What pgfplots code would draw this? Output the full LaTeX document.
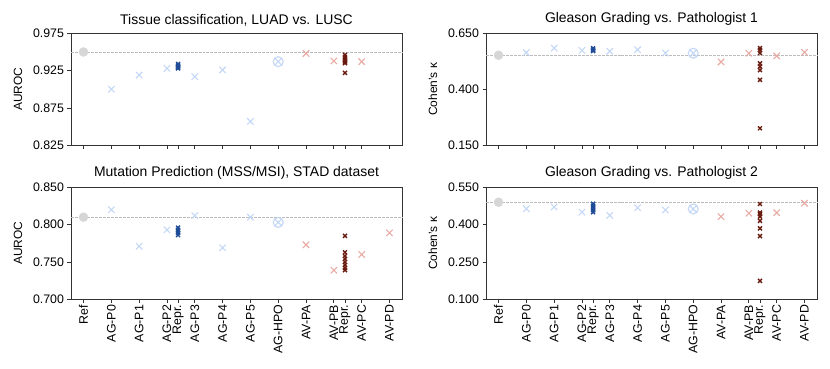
\documentclass[border=0pt]{standalone}
\usepackage{fontspec}
\setmainfont{Liberation Sans}
\usepackage{pgfplots}
\pgfplotsset{compat=1.18}
\usetikzlibrary{plotmarks}
\definecolor{AGlight}{HTML}{C4D7F6}
\definecolor{AGdark}{HTML}{1F4C97}
\definecolor{AVlight}{HTML}{E8ABA4}
\definecolor{AVdark}{HTML}{6A1B10}
\definecolor{RefGray}{HTML}{D6D6D6}
\definecolor{Frame}{HTML}{333333}

\pgfplotsset{
  panel/.style={
    scale only axis, width=331bp, height=112bp,
    anchor=north west,
    xmin=-0.45, xmax=11.45,
    xtick={0,1,2,3,3.4,4,5,6,7,8,9,9.4,10,11},
    tick align=outside, tick pos=left,
    major tick length=3.5bp,
    axis line style={Frame, line width=0.8pt},
    every tick/.style={Frame, line width=0.8pt},
    font=\fontsize{12.4}{14}\selectfont,
    title style={font=\fontsize{14}{16}\selectfont, yshift=-2bp},
    ylabel style={font=\fontsize{12}{14}\selectfont, yshift=4bp},
    yticklabel style={/pgf/number format/.cd, fixed, fixed zerofill, precision=3, assume math mode=true},
    scaled y ticks=false,
    clip=false,
  },
  labels/.style={
    xticklabels={Ref,AG-P0,AG-P1,AG-P2,Repr.,AG-P3,AG-P4,AG-P5,AG-HPO,AV-PA,AV-PB,Repr.,AV-PC,AV-PD},
    xticklabel style={rotate=90, anchor=east, inner sep=2pt},
  },
  nolabels/.style={xticklabels={}},
  refline/.style={RefGray!70!gray, dashed, line width=0.5pt, dash pattern=on 3pt off 1pt},
  refmark/.style={only marks, mark=*, mark size=4.5bp, color=RefGray},
  ag/.style={only marks, mark=x, mark size=4.5bp, color=AGlight, line width=1.1pt},
  hpo/.style={only marks, mark=otimes, mark size=5bp, color=AGlight, line width=1.1pt},
  agr/.style={only marks, mark=x, mark size=2.8bp, color=AGdark, line width=1.4pt},
  av/.style={only marks, mark=x, mark size=4.5bp, color=AVlight, line width=1.1pt},
  avr/.style={only marks, mark=x, mark size=2.8bp, color=AVdark, line width=1.4pt},
}

\begin{document}
\begin{tikzpicture}
\useasboundingbox (0,0) rectangle (830bp,-369bp);

% top left
\begin{axis}[panel, nolabels, at={(71bp,-33.3bp)},
  title={Tissue classification, LUAD vs. LUSC}, ylabel={AUROC},
  ymin=0.825, ymax=0.975, ytick={0.825,0.875,0.925,0.975}]
\addplot[refline] coordinates {(-0.45,0.950) (11.45,0.950)};
\addplot[refmark] coordinates {(0,0.950)};
\addplot[ag] coordinates {(1,0.900) (2,0.919) (3,0.928) (4,0.917) (5,0.926) (6,0.857)};
\addplot[hpo] coordinates {(7,0.937)};
\addplot[agr] coordinates {(3.4,0.928) (3.4,0.930) (3.4,0.932) (3.4,0.934) (3.4,0.931) (3.4,0.929)};
\addplot[av] coordinates {(8,0.948) (9,0.938) (10,0.937)};
\addplot[avr] coordinates {(9.4,0.946) (9.4,0.943) (9.4,0.940) (9.4,0.938) (9.4,0.936) (9.4,0.935) (9.4,0.922)};
\end{axis}

% top right
\begin{axis}[panel, nolabels, at={(486bp,-33.3bp)},
  title={Gleason Grading vs. Pathologist 1}, ylabel={Cohen's κ},
  ymin=0.150, ymax=0.650, ytick={0.150,0.400,0.650}]
\addplot[refline] coordinates {(-0.45,0.552) (11.45,0.552)};
\addplot[refmark] coordinates {(0,0.552)};
\addplot[ag] coordinates {(1,0.564) (2,0.584) (3,0.574) (4,0.570) (5,0.577) (6,0.562)};
\addplot[hpo] coordinates {(7,0.561)};
\addplot[agr] coordinates {(3.4,0.583) (3.4,0.578) (3.4,0.574) (3.4,0.571)};
\addplot[av] coordinates {(8,0.522) (9,0.561) (10,0.549) (11,0.565)};
\addplot[avr] coordinates {(9.4,0.584) (9.4,0.575) (9.4,0.562) (9.4,0.516) (9.4,0.501) (9.4,0.486) (9.4,0.442) (9.4,0.226)};
\end{axis}

% bottom left
\begin{axis}[panel, labels, at={(71bp,-187.3bp)},
  title={Mutation Prediction (MSS/MSI), STAD dataset}, ylabel={AUROC},
  ymin=0.700, ymax=0.850, ytick={0.700,0.750,0.800,0.850}]
\addplot[refline] coordinates {(-0.45,0.810) (11.45,0.810)};
\addplot[refmark] coordinates {(0,0.810)};
\addplot[ag] coordinates {(1,0.820) (2,0.771) (3,0.793) (4,0.812) (5,0.769) (6,0.810)};
\addplot[hpo] coordinates {(7,0.803)};
\addplot[agr] coordinates {(3.4,0.796) (3.4,0.793) (3.4,0.791) (3.4,0.789) (3.4,0.786)};
\addplot[av] coordinates {(8,0.773) (9,0.739) (10,0.760) (11,0.789)};
\addplot[avr] coordinates {(9.4,0.785) (9.4,0.763) (9.4,0.758) (9.4,0.754) (9.4,0.750) (9.4,0.746) (9.4,0.742) (9.4,0.739)};
\end{axis}

% bottom right
\begin{axis}[panel, labels, at={(486bp,-187.3bp)},
  title={Gleason Grading vs. Pathologist 2}, ylabel={Cohen's κ},
  ymin=0.100, ymax=0.550, ytick={0.100,0.250,0.400,0.550}]
\addplot[refline] coordinates {(-0.45,0.490) (11.45,0.490)};
\addplot[refmark] coordinates {(0,0.490)};
\addplot[ag] coordinates {(1,0.464) (2,0.471) (3,0.450) (4,0.437) (5,0.468) (6,0.459)};
\addplot[hpo] coordinates {(7,0.463)};
\addplot[agr] coordinates {(3.4,0.484) (3.4,0.476) (3.4,0.468) (3.4,0.458) (3.4,0.450)};
\addplot[av] coordinates {(8,0.432) (9,0.446) (10,0.448) (11,0.486)};
\addplot[avr] coordinates {(9.4,0.483) (9.4,0.448) (9.4,0.442) (9.4,0.432) (9.4,0.415) (9.4,0.385) (9.4,0.354) (9.4,0.174)};
\end{axis}
\end{tikzpicture}
\end{document}
